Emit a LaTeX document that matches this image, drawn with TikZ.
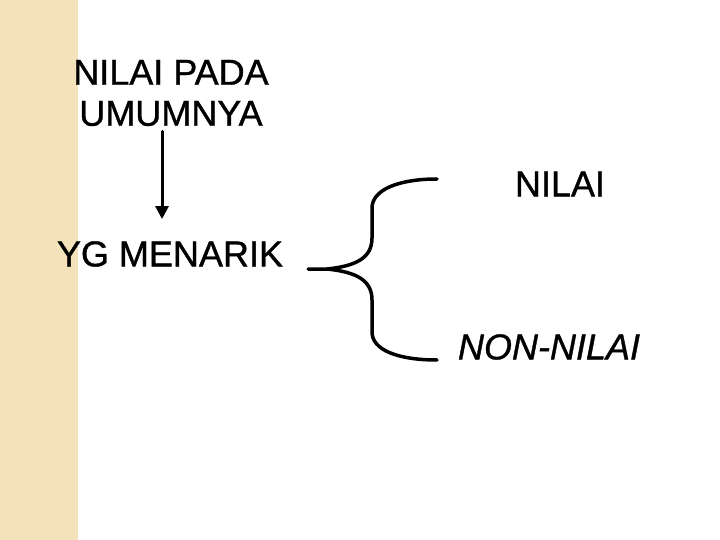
\documentclass[tikz,border=0pt]{standalone}
\usepackage{fontspec}
\setmainfont[FakeBold=1]{Liberation Sans}
\usetikzlibrary{arrows.meta}
\definecolor{stripcol}{RGB}{243,226,186}
\tikzset{
  label text/.style={font=\fontsize{36}{41}\selectfont, inner sep=2pt},
  link/.style={line width=3pt, line cap=round},
}
\begin{document}
\begin{tikzpicture}[x=1pt,y=-1pt]
      \useasboundingbox (0,0) rectangle (720,540);
      \fill[stripcol] (0,0) rectangle (78,540);
      \draw
        (171,93) node[label text, align=center] (umum){NILAI PADA\\UMUMNYA}
        (170,254) node[label text] (menarik){YG MENARIK}
        (560,184) node[label text] (nilai){NILAI}
        (549,347) node[label text] (nonnilai){\itshape NON-NILAI};
      \coordinate (tip) at (308,269);
      \coordinate (topend) at (437,179);
      \coordinate (botend) at (437,360);
      \begin{scope}[link]
        \draw[-{Triangle[width=13pt,length=13pt]}] ([xshift=-9pt,yshift=-3pt]umum.south) to ([xshift=-8pt,yshift=20pt]menarik.north);
        \draw[line width=3.5pt] (tip) -- (327,269)
          .. controls (356,266) and (372,258) .. (372,238) -- (372,208)
          .. controls (372,190) and (398,179) .. (topend);
        \draw[line width=3.5pt] (327,269)
          .. controls (356,272) and (372,280) .. (372,300) -- (372,332)
          .. controls (372,350) and (398,360) .. (botend);
      \end{scope}
    \end{tikzpicture}
\end{document}
